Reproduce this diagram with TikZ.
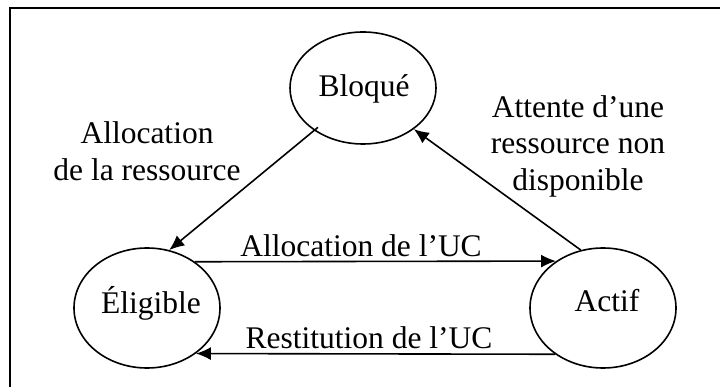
\documentclass[tikz,border=0pt]{standalone}
\usepackage{fontspec}
\setmainfont{Liberation Serif}
\usetikzlibrary{shapes.geometric,arrows.meta}

\begin{document}
\begin{tikzpicture}[x=1pt,y=-1pt,
  state/.style={draw,ellipse,line width=1.6pt,inner sep=0pt,
    minimum width=146pt,minimum height=120pt},
  trans/.style={line width=1.6pt,-{Latex[length=15pt,width=13pt]}},
  lbl/.style={inner sep=0pt,font=\fontsize{31.5}{36.5}\selectfont},
  every node/.style={font=\fontsize{31.5}{36.5}\selectfont}]
  \useasboundingbox (0,0) rectangle (720,387);
  % open frame: top and left edges only
  \draw[line width=2pt] (720,8) -- (10,8) -- (10,387);

  % states
  \node[state,minimum height=112pt] (blo) at (363,88) {};
  \node[state] (eli) at (147,308) {};
  \node[state] (act) at (603,308) {};
  \node[lbl,anchor=base] (tblo) at (364,97) {Bloqué};
  \node[lbl,anchor=base] (teli) at (151,313) {Éligible};
  \node[lbl,anchor=base] (tact) at (607,312) {Actif};

  % transitions
  \draw[trans,shorten <=-5pt] (blo.221) -- (eli.69);
  \draw[trans] (act.111) -- (blo.-39);
  \draw[trans] (eli.44.4) -- (act.135.6);
  \draw[trans] (act.-136.6) -- (eli.-43.4);

  % transition labels
  \node[lbl,align=center] (lres) at (147,151) {Allocation\\de la ressource};
  \node[lbl,align=center] (latt) at (578,146) {Attente d’une\\ressource non\\disponible};
  \node[lbl,anchor=base] (luc) at (361,257) {Allocation de l’UC};
  \node[lbl,anchor=base] (lrest) at (369,348) {Restitution de l’UC};
\end{tikzpicture}
\end{document}
